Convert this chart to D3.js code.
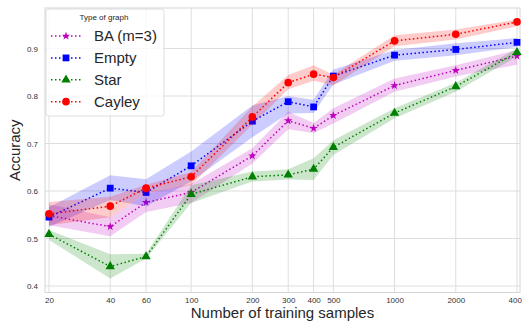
<!DOCTYPE html>
<html>
<head>
<meta charset="utf-8">
<script src="https://cdn.jsdelivr.net/npm/d3@7"></script>
<style>
  body { margin: 0; background: #fff; }
  svg { font-family: "Liberation Sans", Arial, sans-serif; }
</style>
</head>
<body>
<div id="chart"></div>
<script>
const samples = [20, 40, 60, 100, 200, 300, 400, 500, 1000, 2000, 4000]
const yTicks = [0.4, 0.5, 0.6, 0.7, 0.8, 0.9]

const baMean = [0.548, 0.525, 0.576, 0.597, 0.674, 0.748, 0.732, 0.759, 0.822, 0.854, 0.884]
const baLow = [0.528, 0.505, 0.556, 0.575, 0.658, 0.730, 0.722, 0.742, 0.809, 0.841, 0.866]
const baHigh = [0.572, 0.545, 0.594, 0.615, 0.690, 0.767, 0.743, 0.774, 0.837, 0.865, 0.897]

const emptyMean = [0.545, 0.606, 0.597, 0.653, 0.747, 0.788, 0.777, 0.842, 0.886, 0.898, 0.913]
const emptyLow = [0.525, 0.581, 0.568, 0.620, 0.713, 0.763, 0.764, 0.824, 0.874, 0.886, 0.903]
const emptyHigh = [0.566, 0.633, 0.625, 0.683, 0.780, 0.800, 0.792, 0.856, 0.897, 0.911, 0.922]

const starMean = [0.509, 0.441, 0.462, 0.593, 0.630, 0.634, 0.646, 0.692, 0.764, 0.820, 0.892]
const starLow = [0.497, 0.416, 0.458, 0.575, 0.620, 0.624, 0.623, 0.676, 0.753, 0.809, 0.883]
const starHigh = [0.518, 0.467, 0.468, 0.612, 0.641, 0.646, 0.669, 0.707, 0.774, 0.828, 0.900]

const cayleyMean = [0.552, 0.568, 0.606, 0.630, 0.756, 0.828, 0.846, 0.839, 0.916, 0.930, 0.956]
const cayleyLow = [0.528, 0.545, 0.595, 0.612, 0.740, 0.814, 0.832, 0.822, 0.905, 0.919, 0.947]
const cayleyHigh = [0.577, 0.588, 0.613, 0.640, 0.778, 0.844, 0.865, 0.845, 0.928, 0.940, 0.961]

const series = [
  { name: 'BA (m=3)', color: '#bf00bf', symbol: d3.symbolStar, size: 22, mean: baMean, low: baLow, high: baHigh },
  { name: 'Empty', color: '#0000ff', symbol: d3.symbolSquare, size: 46, mean: emptyMean, low: emptyLow, high: emptyHigh },
  { name: 'Star', color: '#008000', symbol: d3.symbolTriangle, size: 38, mean: starMean, low: starLow, high: starHigh },
  { name: 'Cayley', color: '#ff0000', symbol: d3.symbolCircle, size: 46, mean: cayleyMean, low: cayleyLow, high: cayleyHigh }
]

const width = 522
const height = 323
const frame = { left: 45, right: 520, top: 8, bottom: 292.5 }

const x = d3.scaleLog().domain([20, 4000]).range([49, 517])
const y = d3.scaleLinear().domain([0.4, 0.9]).range([286, 48.5])

const svg = d3.select('#chart')
  .append('svg')
  .attr('width', width)
  .attr('height', height)

// grid
svg.append('g')
  .selectAll('line')
  .data(samples)
  .join('line')
  .attr('x1', d => x(d)).attr('x2', d => x(d))
  .attr('y1', frame.top).attr('y2', frame.bottom)
  .attr('stroke', '#dedede')
  .attr('stroke-width', 1)

svg.append('g')
  .selectAll('line')
  .data(yTicks)
  .join('line')
  .attr('x1', frame.left).attr('x2', frame.right)
  .attr('y1', d => y(d)).attr('y2', d => y(d))
  .attr('stroke', '#dedede')
  .attr('stroke-width', 1)

svg.append('rect')
  .attr('x', frame.left).attr('y', frame.top)
  .attr('width', frame.right - frame.left)
  .attr('height', frame.bottom - frame.top)
  .attr('fill', 'none')
  .attr('stroke', '#d6d6d6')
  .attr('stroke-width', 1)

// axes
const xAxis = svg.append('g')
  .attr('transform', `translate(0,${frame.bottom})`)
  .call(d3.axisBottom(x).tickValues(samples).tickFormat(d3.format('d')).tickSize(0).tickPadding(5))
xAxis.select('.domain').remove()
xAxis.selectAll('text').attr('font-size', 8).attr('fill', '#333').attr('font-family', 'Liberation Sans, Arial, sans-serif')

const yAxis = svg.append('g')
  .attr('transform', `translate(${frame.left},0)`)
  .call(d3.axisLeft(y).tickValues(yTicks).tickFormat(d3.format('.1f')).tickSize(0).tickPadding(7))
yAxis.select('.domain').remove()
yAxis.selectAll('text').attr('font-size', 8).attr('fill', '#333').attr('font-family', 'Liberation Sans, Arial, sans-serif')

svg.append('text')
  .attr('x', (frame.left + frame.right) / 2)
  .attr('y', 318)
  .attr('text-anchor', 'middle')
  .attr('font-size', 15)
  .attr('fill', '#262626')
  .text('Number of training samples')

svg.append('text')
  .attr('transform', `translate(20,${(frame.top + frame.bottom) / 2}) rotate(-90)`)
  .attr('text-anchor', 'middle')
  .attr('font-size', 15)
  .attr('fill', '#262626')
  .text('Accuracy')

// series
const area = d3.area()
  .x(d => x(d.n))
  .y0(d => y(d.lo))
  .y1(d => y(d.hi))

const line = d3.line()
  .x(d => x(d.n))
  .y(d => y(d.m))

series.forEach(s => {
  const pts = samples.map((n, i) => ({ n, m: s.mean[i], lo: s.low[i], hi: s.high[i] }))
  const g = svg.append('g')

  g.append('path')
    .datum(pts)
    .attr('d', area)
    .attr('fill', s.color)
    .attr('fill-opacity', 0.2)

  g.append('path')
    .datum(pts)
    .attr('d', line)
    .attr('fill', 'none')
    .attr('stroke', s.color)
    .attr('stroke-width', 1.5)
    .attr('stroke-dasharray', '1.5,2.5')

  g.selectAll('path.pt')
    .data(pts)
    .join('path')
    .attr('class', 'pt')
    .attr('transform', d => `translate(${x(d.n)},${y(d.m)})`)
    .attr('d', d3.symbol().type(s.symbol).size(s.size))
    .attr('fill', s.color)
})

// legend
const legend = svg.append('g')
legend.append('rect')
  .attr('x', 46).attr('y', 9)
  .attr('width', 118).attr('height', 107)
  .attr('rx', 2.5)
  .attr('fill', '#fff')
  .attr('fill-opacity', 0.8)
  .attr('stroke', '#d6d6d6')
  .attr('stroke-width', 0.8)

legend.append('text')
  .attr('x', 104).attr('y', 17.5)
  .attr('dy', '0.35em')
  .attr('text-anchor', 'middle')
  .attr('font-size', 8)
  .attr('fill', '#262626')
  .text('Type of graph')

const item = legend.selectAll('g.item')
  .data(series)
  .join('g')
  .attr('class', 'item')
  .attr('transform', (d, i) => `translate(0,${36 + i * 21.9})`)

item.append('line')
  .attr('x1', 51).attr('x2', 81)
  .attr('stroke', d => d.color)
  .attr('stroke-width', 1.5)
  .attr('stroke-dasharray', '1.5,2.5')

item.append('path')
  .attr('transform', 'translate(66,0)')
  .attr('d', d => d3.symbol().type(d.symbol).size(d.size)())
  .attr('fill', d => d.color)

item.append('text')
  .attr('x', 94)
  .attr('dy', '0.36em')
  .attr('font-size', 15)
  .attr('fill', '#262626')
  .text(d => d.name)
</script>
</body>
</html>
